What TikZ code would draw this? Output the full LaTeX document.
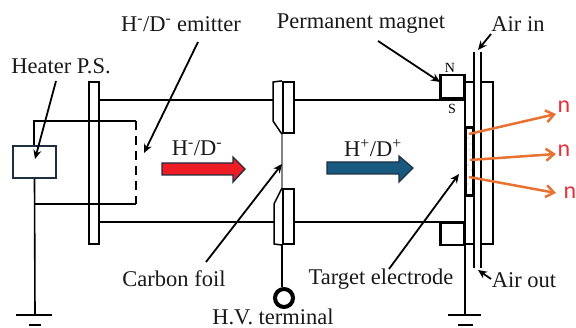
\documentclass[tikz,border=0pt]{standalone}
\usepackage{fontspec}
\setmainfont{Liberation Serif}
\newfontfamily\nfont{Carlito}
\usetikzlibrary{arrows.meta}
\definecolor{orng}{HTML}{E97132}
\definecolor{nred}{HTML}{E8303A}
\definecolor{dark}{HTML}{1F2F3F}
\definecolor{bluearrow}{HTML}{17597F}
\definecolor{redarrow}{HTML}{EE1C25}
\tikzset{
 wire/.style={draw=black,line width=1.6pt},
 foil/.style={draw=black!75,line width=1.3pt},
 leader/.style={draw=black,line width=1.8pt,-{Stealth[length=9pt,width=8pt]}},
 neutron/.style={draw=orng,line width=2.5pt,-{Straight Barb[length=8pt,width=12pt,line width=2.5pt]}},
 lab/.style={inner sep=0pt,font=\fontsize{22.5}{24}\selectfont,text=black!90},
 nlab/.style={inner sep=0pt,font=\nfont\fontsize{24}{26}\selectfont,text=nred},
 pole/.style={inner sep=0pt,font=\fontsize{14}{15}\selectfont},
 boxed/.style={draw=black,line width=2pt,inner sep=0pt},
}
\begin{document}
\begin{tikzpicture}[x=1pt,y=-1pt]
\useasboundingbox (0,0) rectangle (576,328);
% labels
\node[lab] (heater) at (61,66) {Heater P.S.};
\node[lab] (emitter) at (181,24) {H\textsuperscript{-}/D\textsuperscript{-} emitter};
\node[lab] (perm) at (361,24) {Permanent magnet};
\node[lab] (airin) at (518,24) {Air in};
\node[lab] (carbon) at (174,279) {Carbon foil};
\node[lab] (target) at (381,279) {Target electrode};
\node[lab] (airout) at (524,280) {Air out};
\node[lab] (hv) at (273,316.5) {H.V. terminal};
\node[lab] (hm) at (197,148) {H\textsuperscript{-}/D\textsuperscript{-}};
\node[lab] (hp) at (373,148) {H\textsuperscript{+}/D\textsuperscript{+}};
\node[pole] (N) at (450,68) {N};
\node[pole] (S) at (452,109) {S};
\node[nlab] (n1) at (564,107) {n};
\node[nlab] (n2) at (564,151) {n};
\node[nlab] (n3) at (570,193) {n};
% coordinates
\coordinate (a1) at (56,81); \coordinate (a1e) at (35,159);
\coordinate (a2) at (198,42); \coordinate (a2e) at (144,153);
\coordinate (a3) at (378,41); \coordinate (a3e) at (440,82);
\coordinate (a4) at (491,34); \coordinate (a4e) at (478,50);
\coordinate (a5) at (491,279); \coordinate (a5e) at (478,270);
\coordinate (a6) at (206,262); \coordinate (a6e) at (282,164);
\coordinate (a7) at (389,269); \coordinate (a7e) at (459,174);
% left flange
\node[boxed,line width=2.2pt,minimum width=10pt,minimum height=162pt] (flange) at (94,163) {};
% tube
\coordinate (tu1) at (99,100); \coordinate (tu2) at (273,100);
\coordinate (tu3) at (294,100); \coordinate (tu4) at (465,100);
\coordinate (tl1) at (99,222); \coordinate (tl2) at (274,222);
\coordinate (tl3) at (294,222); \coordinate (tl4) at (465,222);
\draw[wire] (tu1)--(tu2) (tu3)--(tu4) (tl1)--(tl2) (tl3)--(tl4);
% heater
\node[draw=dark,line width=2pt,minimum width=43pt,minimum height=32pt,inner sep=0pt] (ps) at (34.5,162) {};
\coordinate (g1) at (35,315);
\coordinate (c1) at (34,121); \coordinate (c2) at (136,121);
\coordinate (c3) at (136,204); \coordinate (c4) at (35,204);
\draw[wire] (ps.north -| c1) -- (c1) -- (c2);
\draw[wire] (ps.south) -- (g1);
\draw[wire] (c4) -- (c3);
\draw[draw=black,line width=2pt,dash pattern=on 9pt off 6pt] (c2) -- (c3);
\draw[wire] (16,315) -- (52,315);
\draw[wire] (29,325) -- (41,325);
% middle electrode
\node[boxed,line width=2.2pt,minimum width=11pt,minimum height=51pt] (eu) at (288.5,107.5) {};
\node[boxed,line width=2pt,minimum width=11pt,minimum height=55pt] (el) at (288.5,216.5) {};
\draw[line width=1.5pt] (eu.north west) -- (273,82) -- (273,121) -- (eu.south west);
\draw[line width=1.5pt] (el.north west) -- (274,204) -- (274,244) -- (el.south west);
\draw[foil] (eu.south west) -- (el.north west);
\node[draw=black,line width=4pt,circle,minimum size=18pt,inner sep=0pt] (ring) at (284,298) {};
\draw[wire] (el.south west) -- (ring.north -| el.south west);
% magnets
\node[draw=black,line width=2.8pt,minimum width=24pt,minimum height=23pt,inner sep=0pt] (mu) at (452.5,86.5) {};
\node[draw=black,line width=2.8pt,minimum width=24pt,minimum height=22pt,inner sep=0pt] (ml) at (452.5,234) {};
% electrode line and ground
\coordinate (g2) at (465,315);
\draw[wire] (465,82) -- (g2);
\draw[wire] (448,315) -- (481,315);
\draw[wire] (458,325) -- (473,325);
% air tubes
\draw[wire] (474,52) -- (474,268);
\draw[wire] (481,52) -- (481,268);
\draw[wire] (465,82) -- (474,82) (481,82) -- (493,82) -- (493,244) -- (481,244) (474,244) -- (465,244);
% target
\node[draw=black,line width=2.4pt,fill=white,minimum width=7.5pt,minimum height=68pt,inner sep=0pt] (tgt) at (469.5,161.5) {};
\foreach \yy/\xx in {138/468,144/470,150/469,155/470,165/468,170/471,184/468,189/470}
  \fill[black!60] (\xx,\yy) circle (0.5pt);
% beam arrows
\fill[redarrow,draw=dark,line width=1.4pt] (162,163) -- (233,163) -- (233,157) -- (245,169) -- (233,182) -- (233,175) -- (162,175) -- cycle;
\fill[bluearrow,draw=dark,line width=1.2pt] (327,162) -- (399,162) -- (399,156) -- (413,168) -- (399,182) -- (399,174) -- (327,174) -- cycle;
% leaders
\draw[leader] (a1) -- (a1e);
\draw[leader] (a2) -- (a2e);
\draw[leader] (a3) -- (a3e);
\draw[leader] (a4) -- (a4e);
\draw[leader] (a5) -- (a5e);
\draw[leader] (a6) -- (a6e);
\draw[leader] (a7) -- (a7e);
% neutrons
\coordinate (o1) at (469,134); \coordinate (o2) at (470,160); \coordinate (o3) at (469,177);
\draw[neutron] (o1) -- (556,114);
\draw[neutron] (o2) -- (556,154);
\draw[neutron] (o3) -- (556,193);
\end{tikzpicture}
\end{document}
